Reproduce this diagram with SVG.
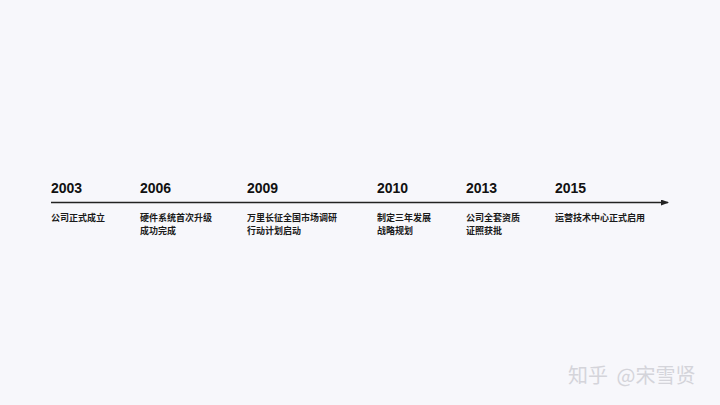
<svg xmlns="http://www.w3.org/2000/svg" width="720" height="405" viewBox="0 0 720 405">
<style>
.yr{font-family:"Liberation Sans","Noto Sans CJK SC",sans-serif;font-size:14px;font-weight:bold;fill:#111}
.lb{font-family:"Noto Sans CJK SC",sans-serif;font-size:9px;font-weight:bold;fill:#1a1a1a}
.wm{font-family:"Noto Sans CJK SC",sans-serif;font-size:20px;fill:#d4d4da}
</style>
<defs>
<marker id="ah" markerWidth="8" markerHeight="6" refX="7" refY="3" orient="auto" markerUnits="userSpaceOnUse">
<path d="M0,0 L8,3 L0,6 Z" fill="#222"/>
</marker>
</defs>
<rect width="720" height="405" fill="#f7f7fb"/>
<g id="connectors">
<line x1="51" y1="202.5" x2="668" y2="202.5" stroke="#222" stroke-width="1.5" marker-end="url(#ah)"/>
</g>
<g id="n2003"><text class="yr" x="51" y="193">2003</text><text class="lb" x="51" y="221">公司正式成立</text></g>
<g id="n2006"><text class="yr" x="140" y="193">2006</text><text class="lb" x="140" y="221">硬件系统首次升级</text><text class="lb" x="140" y="234">成功完成</text></g>
<g id="n2009"><text class="yr" x="247" y="193">2009</text><text class="lb" x="247" y="221">万里长征全国市场调研</text><text class="lb" x="247" y="234">行动计划启动</text></g>
<g id="n2010"><text class="yr" x="377" y="193">2010</text><text class="lb" x="377" y="221">制定三年发展</text><text class="lb" x="377" y="234">战略规划</text></g>
<g id="n2013"><text class="yr" x="466" y="193">2013</text><text class="lb" x="466" y="221">公司全套资质</text><text class="lb" x="466" y="234">证照获批</text></g>
<g id="n2015"><text class="yr" x="555" y="193">2015</text><text class="lb" x="555" y="221">运营技术中心正式启用</text></g>
<text class="wm" x="568" y="383" word-spacing="4">知乎 @宋雪贤</text>
</svg>
